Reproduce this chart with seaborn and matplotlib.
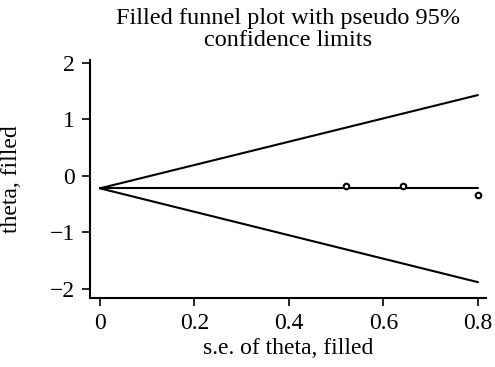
import matplotlib
matplotlib.use("Agg")
import matplotlib.pyplot as plt
import seaborn as sns
import pandas as pd

# data
se_points = [0.52, 0.642, 0.80]
theta_points = [-0.17, -0.18, -0.33]
line_se = [0.0, 0.80]
center_theta = [-0.22, -0.22]
upper_theta = [-0.22, 1.43]
lower_theta = [-0.22, -1.88]
xticks = [0, 0.2, 0.4, 0.6, 0.8]
yticks = [-2, -1, 0, 1, 2]

sns.set_theme(style="ticks")
plt.rcParams['font.family'] = ['Liberation Serif', 'DejaVu Serif']

fig = plt.figure(figsize=(4.95, 3.67), dpi=100)
ax = fig.add_axes([90/495, 1 - 298/367, (486-90)/495, (298-60)/367])

lines = pd.DataFrame({"se": line_se * 3,
                      "theta": center_theta + upper_theta + lower_theta,
                      "grp": ["c", "c", "u", "u", "l", "l"]})
sns.lineplot(data=lines, x="se", y="theta", units="grp", estimator=None,
             color="black", linewidth=1.5, ax=ax)
pts = pd.DataFrame({"se": se_points, "theta": theta_points})
sns.scatterplot(data=pts, x="se", y="theta", ax=ax, marker="o", s=16,
                facecolor="white", edgecolor="black", linewidth=1.5, zorder=5)

ax.set_xlim(-0.021, 0.817)
ax.set_ylim(-2.16, 2.05)
ax.set_xticks(xticks)
ax.set_xticklabels(["0", "0.2", "0.4", "0.6", "0.8"])
ax.set_yticks(yticks)
ax.set_yticklabels(["\u22122", "\u22121", "0", "1", "2"])
ax.tick_params(labelsize=17, length=6, width=1.2, colors="black", pad=5)
for s in ["left", "bottom"]:
    ax.spines[s].set_linewidth(1.5)
    ax.spines[s].set_color("black")
sns.despine(ax=ax)
ax.set_xlabel("s.e. of theta, filled", fontsize=17, color="black", labelpad=3)
ax.set_ylabel("theta, filled", fontsize=17, color="black", labelpad=20)
ax.set_title("Filled funnel plot with pseudo 95%\nconfidence limits", fontsize=17.5,
             color="black", pad=10, linespacing=1.1)

fig.savefig("out.png", dpi=100)
